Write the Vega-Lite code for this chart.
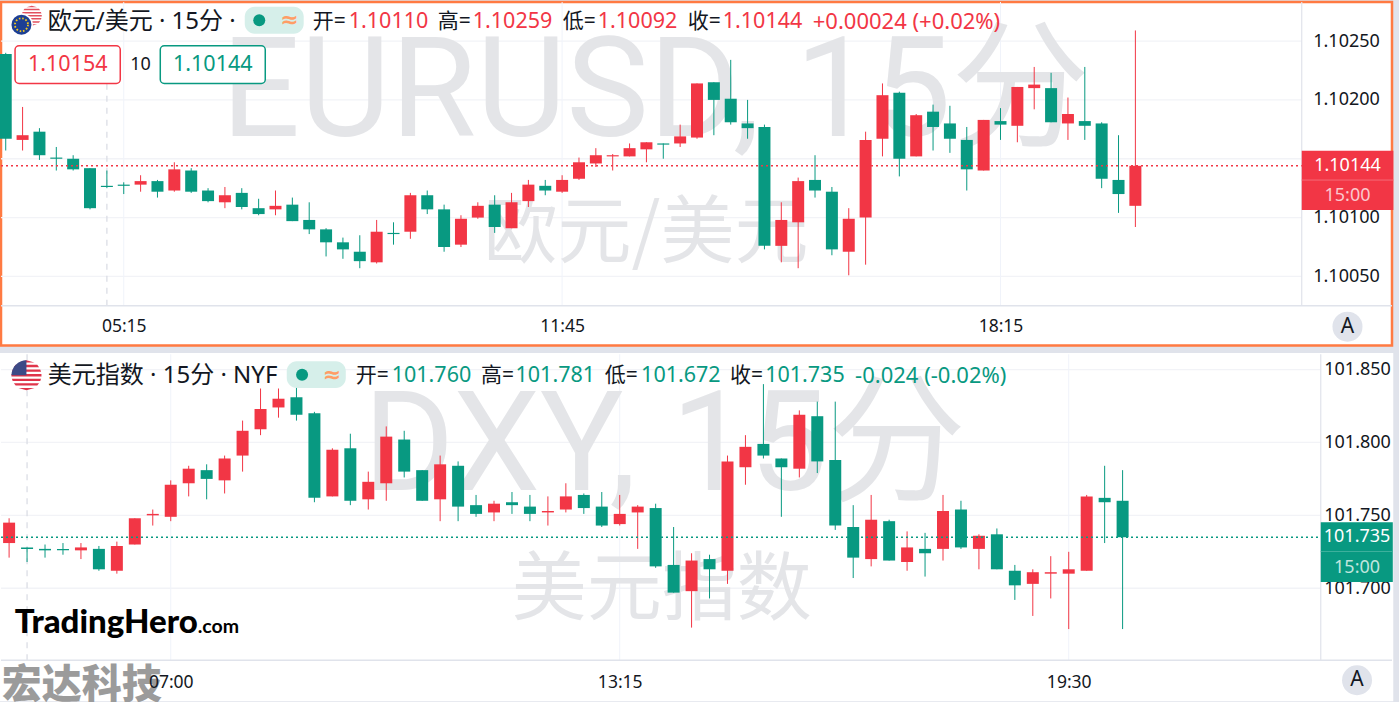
{"$schema":"https://vega.github.io/schema/vega-lite/v6.json","background":"#e0e3eb","padding":{"left":-2,"top":0,"right":7.5,"bottom":2},"bounds":"flush","spacing":8.25,"config":{"scale":{"continuousPadding":0}},
"datasets":{
"eurLevels":[{"level":1.1005},{"level":1.101},{"level":1.1015},{"level":1.102},{"level":1.1025}],
"eurTimes":[{"t":"2024-03-01T05:15"},{"t":"2024-03-01T11:45"},{"t":"2024-03-01T18:15"}],
"dxyLevels":[{"level":101.7},{"level":101.75},{"level":101.8},{"level":101.85}],
"dxyTimes":[{"t":"2024-03-01T07:00"},{"t":"2024-03-01T13:15"},{"t":"2024-03-01T19:30"}],
"eur":[
{"t":"2024-03-01T03:30","open":1.10239,"high":1.1024,"low":1.10157,"close":1.10167},
{"t":"2024-03-01T03:45","open":1.10166,"high":1.10194,"low":1.10157,"close":1.1017},
{"t":"2024-03-01T04:00","open":1.10173,"high":1.10176,"low":1.10149,"close":1.10153},
{"t":"2024-03-01T04:15","open":1.10151,"high":1.1016,"low":1.1014,"close":1.1015},
{"t":"2024-03-01T04:30","open":1.1015,"high":1.10153,"low":1.1014,"close":1.10141},
{"t":"2024-03-01T04:45","open":1.10142,"high":1.10142,"low":1.10107,"close":1.10108},
{"t":"2024-03-01T05:00","open":1.10127,"high":1.1014,"low":1.10125,"close":1.10126},
{"t":"2024-03-01T05:15","open":1.10128,"high":1.1013,"low":1.1012,"close":1.10127},
{"t":"2024-03-01T05:30","open":1.10128,"high":1.10136,"low":1.10122,"close":1.10131},
{"t":"2024-03-01T05:45","open":1.10131,"high":1.10132,"low":1.10117,"close":1.10122},
{"t":"2024-03-01T06:00","open":1.10123,"high":1.10147,"low":1.10122,"close":1.10141},
{"t":"2024-03-01T06:15","open":1.1014,"high":1.10142,"low":1.10121,"close":1.10122},
{"t":"2024-03-01T06:30","open":1.10123,"high":1.10125,"low":1.10113,"close":1.10114},
{"t":"2024-03-01T06:45","open":1.10113,"high":1.10126,"low":1.10108,"close":1.10119},
{"t":"2024-03-01T07:00","open":1.10121,"high":1.10125,"low":1.10107,"close":1.10109},
{"t":"2024-03-01T07:15","open":1.10108,"high":1.10116,"low":1.10102,"close":1.10103},
{"t":"2024-03-01T07:30","open":1.10107,"high":1.10123,"low":1.10102,"close":1.1011},
{"t":"2024-03-01T07:45","open":1.10111,"high":1.10117,"low":1.10097,"close":1.10097},
{"t":"2024-03-01T08:00","open":1.10098,"high":1.10113,"low":1.10086,"close":1.1009},
{"t":"2024-03-01T08:15","open":1.1009,"high":1.10091,"low":1.10067,"close":1.10079},
{"t":"2024-03-01T08:30","open":1.10079,"high":1.10083,"low":1.10065,"close":1.10073},
{"t":"2024-03-01T08:45","open":1.10071,"high":1.10085,"low":1.10057,"close":1.10063},
{"t":"2024-03-01T09:00","open":1.10062,"high":1.10098,"low":1.10061,"close":1.10088},
{"t":"2024-03-01T09:15","open":1.10087,"high":1.10096,"low":1.10077,"close":1.10086},
{"t":"2024-03-01T09:30","open":1.10088,"high":1.10121,"low":1.10082,"close":1.10119},
{"t":"2024-03-01T09:45","open":1.10119,"high":1.10123,"low":1.10103,"close":1.10107},
{"t":"2024-03-01T10:00","open":1.10107,"high":1.10111,"low":1.10071,"close":1.10075},
{"t":"2024-03-01T10:15","open":1.10077,"high":1.10102,"low":1.10075,"close":1.10099},
{"t":"2024-03-01T10:30","open":1.101,"high":1.10113,"low":1.10099,"close":1.1011},
{"t":"2024-03-01T10:45","open":1.10111,"high":1.10119,"low":1.10087,"close":1.10092},
{"t":"2024-03-01T11:00","open":1.10091,"high":1.10121,"low":1.10091,"close":1.10113},
{"t":"2024-03-01T11:15","open":1.10114,"high":1.10132,"low":1.10109,"close":1.10128},
{"t":"2024-03-01T11:30","open":1.10127,"high":1.10132,"low":1.10119,"close":1.10123},
{"t":"2024-03-01T11:45","open":1.10122,"high":1.10136,"low":1.10121,"close":1.10132},
{"t":"2024-03-01T12:00","open":1.10133,"high":1.10151,"low":1.10132,"close":1.10147},
{"t":"2024-03-01T12:15","open":1.10146,"high":1.10159,"low":1.10143,"close":1.10153},
{"t":"2024-03-01T12:30","open":1.10152,"high":1.10154,"low":1.1014,"close":1.10153},
{"t":"2024-03-01T12:45","open":1.10152,"high":1.10163,"low":1.10152,"close":1.10159},
{"t":"2024-03-01T13:00","open":1.10158,"high":1.10164,"low":1.10147,"close":1.10164},
{"t":"2024-03-01T13:15","open":1.10163,"high":1.10163,"low":1.1015,"close":1.10162},
{"t":"2024-03-01T13:30","open":1.10163,"high":1.10179,"low":1.1016,"close":1.10169},
{"t":"2024-03-01T13:45","open":1.10168,"high":1.10214,"low":1.10167,"close":1.10214},
{"t":"2024-03-01T14:00","open":1.10215,"high":1.10215,"low":1.1017,"close":1.102},
{"t":"2024-03-01T14:15","open":1.10201,"high":1.10234,"low":1.10179,"close":1.10181},
{"t":"2024-03-01T14:30","open":1.1018,"high":1.102,"low":1.10167,"close":1.10176},
{"t":"2024-03-01T14:45","open":1.10177,"high":1.10179,"low":1.10073,"close":1.10076},
{"t":"2024-03-01T15:00","open":1.10076,"high":1.10113,"low":1.10062,"close":1.10098},
{"t":"2024-03-01T15:15","open":1.10096,"high":1.10134,"low":1.10057,"close":1.10131},
{"t":"2024-03-01T15:30","open":1.10132,"high":1.10153,"low":1.10117,"close":1.10123},
{"t":"2024-03-01T15:45","open":1.10122,"high":1.10126,"low":1.10068,"close":1.10073},
{"t":"2024-03-01T16:00","open":1.10071,"high":1.10108,"low":1.10051,"close":1.10099},
{"t":"2024-03-01T16:15","open":1.101,"high":1.10173,"low":1.1006,"close":1.10166},
{"t":"2024-03-01T16:30","open":1.10167,"high":1.10214,"low":1.10152,"close":1.10204},
{"t":"2024-03-01T16:45","open":1.10206,"high":1.10207,"low":1.10135,"close":1.1015},
{"t":"2024-03-01T17:00","open":1.10152,"high":1.10188,"low":1.10152,"close":1.10187},
{"t":"2024-03-01T17:15","open":1.1019,"high":1.10196,"low":1.10157,"close":1.10177},
{"t":"2024-03-01T17:30","open":1.1018,"high":1.10195,"low":1.10155,"close":1.10167},
{"t":"2024-03-01T17:45","open":1.10166,"high":1.10177,"low":1.10123,"close":1.10141},
{"t":"2024-03-01T18:00","open":1.1014,"high":1.10183,"low":1.1014,"close":1.10183},
{"t":"2024-03-01T18:15","open":1.10182,"high":1.10193,"low":1.10166,"close":1.10179},
{"t":"2024-03-01T18:30","open":1.10178,"high":1.10211,"low":1.10164,"close":1.10211},
{"t":"2024-03-01T18:45","open":1.1021,"high":1.10228,"low":1.10192,"close":1.10213},
{"t":"2024-03-01T19:00","open":1.1021,"high":1.10223,"low":1.10181,"close":1.10181},
{"t":"2024-03-01T19:15","open":1.1018,"high":1.10202,"low":1.10166,"close":1.10188},
{"t":"2024-03-01T19:30","open":1.10182,"high":1.10228,"low":1.10166,"close":1.10178},
{"t":"2024-03-01T19:45","open":1.1018,"high":1.10181,"low":1.10125,"close":1.10133},
{"t":"2024-03-01T20:00","open":1.10132,"high":1.1017,"low":1.10104,"close":1.1012},
{"t":"2024-03-01T20:15","open":1.1011,"high":1.10259,"low":1.10092,"close":1.10144}],
"dxy":[
{"t":"2024-03-01T04:45","open":101.731,"high":101.748,"low":101.721,"close":101.745},
{"t":"2024-03-01T05:00","open":101.728,"high":101.728,"low":101.718,"close":101.727},
{"t":"2024-03-01T05:15","open":101.727,"high":101.73,"low":101.721,"close":101.726},
{"t":"2024-03-01T05:30","open":101.727,"high":101.731,"low":101.723,"close":101.726},
{"t":"2024-03-01T05:45","open":101.726,"high":101.731,"low":101.72,"close":101.728},
{"t":"2024-03-01T06:00","open":101.727,"high":101.729,"low":101.712,"close":101.713},
{"t":"2024-03-01T06:15","open":101.712,"high":101.732,"low":101.71,"close":101.729},
{"t":"2024-03-01T06:30","open":101.73,"high":101.748,"low":101.73,"close":101.748},
{"t":"2024-03-01T06:45","open":101.75,"high":101.754,"low":101.743,"close":101.751},
{"t":"2024-03-01T07:00","open":101.749,"high":101.774,"low":101.746,"close":101.771},
{"t":"2024-03-01T07:15","open":101.772,"high":101.784,"low":101.763,"close":101.782},
{"t":"2024-03-01T07:30","open":101.781,"high":101.785,"low":101.761,"close":101.775},
{"t":"2024-03-01T07:45","open":101.774,"high":101.791,"low":101.765,"close":101.789},
{"t":"2024-03-01T08:00","open":101.791,"high":101.815,"low":101.78,"close":101.808},
{"t":"2024-03-01T08:15","open":101.809,"high":101.837,"low":101.805,"close":101.823},
{"t":"2024-03-01T08:30","open":101.824,"high":101.837,"low":101.817,"close":101.83},
{"t":"2024-03-01T08:45","open":101.831,"high":101.839,"low":101.815,"close":101.819},
{"t":"2024-03-01T09:00","open":101.82,"high":101.821,"low":101.759,"close":101.762},
{"t":"2024-03-01T09:15","open":101.763,"high":101.796,"low":101.763,"close":101.795},
{"t":"2024-03-01T09:30","open":101.796,"high":101.806,"low":101.757,"close":101.76},
{"t":"2024-03-01T09:45","open":101.761,"high":101.78,"low":101.754,"close":101.773},
{"t":"2024-03-01T10:00","open":101.772,"high":101.811,"low":101.76,"close":101.804},
{"t":"2024-03-01T10:15","open":101.802,"high":101.808,"low":101.776,"close":101.78},
{"t":"2024-03-01T10:30","open":101.781,"high":101.781,"low":101.76,"close":101.76},
{"t":"2024-03-01T10:45","open":101.761,"high":101.791,"low":101.746,"close":101.785},
{"t":"2024-03-01T11:00","open":101.784,"high":101.787,"low":101.746,"close":101.756},
{"t":"2024-03-01T11:15","open":101.757,"high":101.764,"low":101.749,"close":101.751},
{"t":"2024-03-01T11:30","open":101.752,"high":101.76,"low":101.746,"close":101.758},
{"t":"2024-03-01T11:45","open":101.759,"high":101.766,"low":101.751,"close":101.757},
{"t":"2024-03-01T12:00","open":101.756,"high":101.764,"low":101.746,"close":101.751},
{"t":"2024-03-01T12:15","open":101.752,"high":101.763,"low":101.743,"close":101.753},
{"t":"2024-03-01T12:30","open":101.754,"high":101.772,"low":101.752,"close":101.763},
{"t":"2024-03-01T12:45","open":101.764,"high":101.765,"low":101.751,"close":101.755},
{"t":"2024-03-01T13:00","open":101.756,"high":101.766,"low":101.742,"close":101.743},
{"t":"2024-03-01T13:15","open":101.744,"high":101.764,"low":101.743,"close":101.751},
{"t":"2024-03-01T13:30","open":101.752,"high":101.757,"low":101.727,"close":101.756},
{"t":"2024-03-01T13:45","open":101.755,"high":101.758,"low":101.714,"close":101.715},
{"t":"2024-03-01T14:00","open":101.716,"high":101.742,"low":101.697,"close":101.697},
{"t":"2024-03-01T14:15","open":101.698,"high":101.724,"low":101.673,"close":101.719},
{"t":"2024-03-01T14:30","open":101.72,"high":101.723,"low":101.693,"close":101.713},
{"t":"2024-03-01T14:45","open":101.712,"high":101.791,"low":101.703,"close":101.787},
{"t":"2024-03-01T15:00","open":101.783,"high":101.805,"low":101.771,"close":101.797},
{"t":"2024-03-01T15:15","open":101.799,"high":101.84,"low":101.789,"close":101.791},
{"t":"2024-03-01T15:30","open":101.789,"high":101.789,"low":101.749,"close":101.783},
{"t":"2024-03-01T15:45","open":101.782,"high":101.822,"low":101.776,"close":101.819},
{"t":"2024-03-01T16:00","open":101.818,"high":101.828,"low":101.779,"close":101.787},
{"t":"2024-03-01T16:15","open":101.788,"high":101.828,"low":101.74,"close":101.743},
{"t":"2024-03-01T16:30","open":101.742,"high":101.757,"low":101.707,"close":101.721},
{"t":"2024-03-01T16:45","open":101.72,"high":101.764,"low":101.715,"close":101.747},
{"t":"2024-03-01T17:00","open":101.746,"high":101.747,"low":101.719,"close":101.719},
{"t":"2024-03-01T17:15","open":101.718,"high":101.739,"low":101.712,"close":101.728},
{"t":"2024-03-01T17:30","open":101.727,"high":101.738,"low":101.708,"close":101.724},
{"t":"2024-03-01T17:45","open":101.727,"high":101.764,"low":101.719,"close":101.753},
{"t":"2024-03-01T18:00","open":101.754,"high":101.76,"low":101.727,"close":101.728},
{"t":"2024-03-01T18:15","open":101.727,"high":101.737,"low":101.713,"close":101.736},
{"t":"2024-03-01T18:30","open":101.737,"high":101.741,"low":101.713,"close":101.713},
{"t":"2024-03-01T18:45","open":101.712,"high":101.716,"low":101.692,"close":101.702},
{"t":"2024-03-01T19:00","open":101.703,"high":101.713,"low":101.681,"close":101.711},
{"t":"2024-03-01T19:15","open":101.71,"high":101.722,"low":101.693,"close":101.711},
{"t":"2024-03-01T19:30","open":101.71,"high":101.725,"low":101.672,"close":101.713},
{"t":"2024-03-01T19:45","open":101.712,"high":101.764,"low":101.712,"close":101.763},
{"t":"2024-03-01T20:00","open":101.762,"high":101.784,"low":101.731,"close":101.759},
{"t":"2024-03-01T20:15","open":101.76,"high":101.781,"low":101.672,"close":101.735}]
},
"vconcat":[
{"width":1391,"height":343.5,"view":{"fill":"#ffffff","stroke":"#ff7a42","strokeWidth":2.5},"data":{"values":[{}]},
"layer":[
{"data":{"name":"eurLevels"},"mark":{"type":"rule","color":"#f2f3f7","strokeWidth":1.3},"encoding":{
"x":{"datum":{"year":2024,"month":3,"date":1,"hours":3,"minutes":25,"seconds":48},"type":"temporal","scale":{"domain":[{"year":2024,"month":3,"date":1,"hours":3,"minutes":25,"seconds":48},{"year":2024,"month":3,"date":2,"hours":0,"minutes":3,"seconds":18}],"nice":false,"padding":0},"axis":{"title":null,"orient":"bottom","offset":-39.75,"grid":false,"domain":false,"ticks":false,"labelPadding":12,"format":"%H:%M","values":[{"year":2024,"month":3,"date":1,"hours":5,"minutes":15},{"year":2024,"month":3,"date":1,"hours":11,"minutes":45},{"year":2024,"month":3,"date":1,"hours":18,"minutes":15}],"labelFont":"Noto Sans","labelFontSize":17.5,"labelColor":"#131722","labelFlush":false,"labelOverlap":false}},
"x2":{"datum":{"year":2024,"month":3,"date":1,"hours":22,"minutes":43,"seconds":0}},
"y":{"field":"level","type":"quantitative","scale":{"domain":[1.0999133,1.1028318],"nice":false,"zero":false},"axis":{"title":null,"orient":"right","offset":-90.25,"grid":false,"domain":false,"ticks":false,"labelPadding":11,"format":".5f","values":[1.1005,1.101,1.1015,1.102,1.1025],"labelFont":"Noto Sans","labelFontSize":18,"labelColor":"#131722","labelOverlap":false,"labelFlush":false}}}},
{"data":{"name":"eurTimes"},"mark":{"type":"rule","color":"#f0f3fa","strokeWidth":1},"encoding":{"x":{"field":"t","type":"temporal"},"y":{"datum":1.1028318,"type":"quantitative"},"y2":{"datum":1.100251}}},
{"mark":{"type":"text","text":"EURUSD, 15分","align":"center","baseline":"alphabetic","font":"Roboto, Noto Sans CJK SC","fontSize":139,"color":"#e4e5e8"},"encoding":{"x":{"datum":{"year":2024,"month":3,"date":1,"hours":13,"minutes":8,"seconds":18},"type":"temporal"},"y":{"datum":1.101695,"type":"quantitative"}}},
{"mark":{"type":"text","text":"欧元/美元","align":"center","baseline":"middle","font":"Noto Sans CJK SC","fontSize":74,"color":"#e4e5e8"},"encoding":{"x":{"datum":{"year":2024,"month":3,"date":1,"hours":12,"minutes":59,"seconds":36},"type":"temporal"},"y":{"datum":1.100855,"type":"quantitative"}}},
{"mark":{"type":"rule","color":"#d8dbe3","strokeWidth":1.2,"strokeDash":[6,6]},"encoding":{"x":{"datum":{"year":2024,"month":3,"date":1,"hours":5,"minutes":0,"seconds":0},"type":"temporal"},"y":{"datum":1.102137,"type":"quantitative"},"y2":{"datum":1.100251}}},
{"mark":{"type":"rule","color":"#e0e3eb","strokeWidth":1.5},"encoding":{"x":{"datum":{"year":2024,"month":3,"date":1,"hours":3,"minutes":25,"seconds":48},"type":"temporal"},"x2":{"datum":{"year":2024,"month":3,"date":2,"hours":0,"minutes":3,"seconds":18}},"y":{"datum":1.100251,"type":"quantitative"}}},
{"mark":{"type":"rule","color":"#e0e3eb","strokeWidth":1.2},"encoding":{"x":{"datum":{"year":2024,"month":3,"date":1,"hours":22,"minutes":43,"seconds":0},"type":"temporal"},"y":{"datum":1.1028318,"type":"quantitative"},"y2":{"datum":1.100251}}},
{"data":{"name":"eur"},"mark":{"type":"rule","strokeWidth":1},"encoding":{"x":{"field":"t","type":"temporal"},"y":{"field":"low","type":"quantitative"},"y2":{"field":"high"},"color":{"condition":{"test":"datum.close>datum.open","value":"#f23645"},"value":"#089981"}}},
{"data":{"name":"eur"},"mark":{"type":"bar","size":12},"encoding":{"x":{"field":"t","type":"temporal"},"y":{"field":"open","type":"quantitative"},"y2":{"field":"close"},"color":{"condition":{"test":"datum.close>datum.open","value":"#f23645"},"value":"#089981"}}},
{"mark":{"type":"rule","color":"#f23645","strokeWidth":1.4,"strokeDash":[2,3]},"encoding":{"x":{"datum":{"year":2024,"month":3,"date":1,"hours":3,"minutes":25,"seconds":48},"type":"temporal"},"x2":{"datum":{"year":2024,"month":3,"date":1,"hours":22,"minutes":43,"seconds":0}},"y":{"datum":1.10144,"type":"quantitative"}}},
{"mark":{"type":"rect","color":"#f23645"},"encoding":{"x":{"datum":{"year":2024,"month":3,"date":1,"hours":22,"minutes":43,"seconds":0},"type":"temporal"},"x2":{"datum":{"year":2024,"month":3,"date":2,"hours":0,"minutes":4,"seconds":30}},"y":{"datum":1.101568,"type":"quantitative"},"y2":{"datum":1.101064}}},
{"mark":{"type":"rule","color":"#f56b77","strokeWidth":1},"encoding":{"x":{"datum":{"year":2024,"month":3,"date":1,"hours":22,"minutes":43,"seconds":0},"type":"temporal"},"x2":{"datum":{"year":2024,"month":3,"date":2,"hours":0,"minutes":4,"seconds":30}},"y":{"datum":1.101319,"type":"quantitative"}}},
{"mark":{"type":"text","text":"1.10144","align":"center","baseline":"middle","font":"Noto Sans","fontSize":18,"color":"#ffffff"},"encoding":{"x":{"datum":{"year":2024,"month":3,"date":1,"hours":23,"minutes":23,"seconds":42},"type":"temporal"},"y":{"datum":1.10144,"type":"quantitative"}}},
{"mark":{"type":"text","text":"15:00","align":"center","baseline":"middle","font":"Noto Sans","fontSize":18,"color":"#fbc8cd"},"encoding":{"x":{"datum":{"year":2024,"month":3,"date":1,"hours":23,"minutes":23,"seconds":42},"type":"temporal"},"y":{"datum":1.101186,"type":"quantitative"}}},
{"mark":{"type":"point","shape":"circle","filled":true,"size":900,"color":"#e0e3eb","opacity":1},"encoding":{"x":{"datum":{"year":2024,"month":3,"date":1,"hours":23,"minutes":23,"seconds":42},"type":"temporal"},"y":{"datum":1.100073,"type":"quantitative"}}},
{"mark":{"type":"text","text":"A","align":"center","baseline":"middle","font":"Noto Sans","fontSize":21,"color":"#131722"},"encoding":{"x":{"datum":{"year":2024,"month":3,"date":1,"hours":23,"minutes":23,"seconds":42},"type":"temporal"},"y":{"datum":1.100073,"type":"quantitative"}}},
{"mark":{"type":"point","filled":true,"opacity":1,"size":400,"color":"#ffffff","shape":"M-1,0A1,1,0,1,1,1,0A1,1,0,1,1,-1,0Z"},"encoding":{"x":{"datum":{"year":2024,"month":3,"date":1,"hours":3,"minutes":53,"seconds":9},"type":"temporal"},"y":{"datum":1.102715,"type":"quantitative"}}},
{"mark":{"type":"point","filled":true,"opacity":1,"size":400,"color":"#e2505f","shape":"M-.533,-.846L0,-1L.533,-.846ZM-.72,-.692L.72,-.692L.84,-.538L-.84,-.538ZM-.92,-.385L.92,-.385L.97,-.231L-.97,-.231ZM-1,-.077L1,-.077L1,.077L-1,.077ZM-.97,.231L.97,.231L.92,.385L-.92,.385ZM-.84,.538L.84,.538L.72,.692L-.72,.692ZM-.533,.846L.533,.846L0,1Z"},"encoding":{"x":{"datum":{"year":2024,"month":3,"date":1,"hours":3,"minutes":53,"seconds":9},"type":"temporal"},"y":{"datum":1.102715,"type":"quantitative"}}},
{"mark":{"type":"point","shape":"circle","filled":true,"size":529,"color":"#ffffff","opacity":1},"encoding":{"x":{"datum":{"year":2024,"month":3,"date":1,"hours":3,"minutes":44,"seconds":0},"type":"temporal"},"y":{"datum":1.1026385,"type":"quantitative"}}},
{"mark":{"type":"point","shape":"circle","filled":true,"size":400,"color":"#1c3f94","opacity":1},"encoding":{"x":{"datum":{"year":2024,"month":3,"date":1,"hours":3,"minutes":44,"seconds":0},"type":"temporal"},"y":{"datum":1.1026385,"type":"quantitative"}}},
{"mark":{"type":"point","shape":"circle","filled":false,"size":169,"color":"#f2c81e","opacity":1,"strokeWidth":1.8,"strokeDash":[1.6,1.8]},"encoding":{"x":{"datum":{"year":2024,"month":3,"date":1,"hours":3,"minutes":44,"seconds":0},"type":"temporal"},"y":{"datum":1.1026385,"type":"quantitative"}}},
{"mark":{"type":"text","text":"欧元/美元 · 15分 ·","align":"left","baseline":"middle","font":"Noto Sans, Noto Sans CJK SC","fontSize":24,"color":"#131722"},"encoding":{"x":{"datum":{"year":2024,"month":3,"date":1,"hours":4,"minutes":7,"seconds":24},"type":"temporal"},"y":{"datum":1.102664,"type":"quantitative"}}},
{"mark":{"type":"rect","color":"#d6efea","cornerRadius":10},"encoding":{"x":{"datum":{"year":2024,"month":3,"date":1,"hours":7,"minutes":2,"seconds":39},"type":"temporal"},"x2":{"datum":{"year":2024,"month":3,"date":1,"hours":7,"minutes":55,"seconds":6}},"y":{"datum":1.1027914,"type":"quantitative"},"y2":{"datum":1.102562}}},
{"mark":{"type":"point","shape":"circle","filled":true,"size":144,"color":"#089981","opacity":1},"encoding":{"x":{"datum":{"year":2024,"month":3,"date":1,"hours":7,"minutes":15,"seconds":33},"type":"temporal"},"y":{"datum":1.1026767,"type":"quantitative"}}},
{"mark":{"type":"text","text":"≈","align":"center","baseline":"middle","font":"DejaVu Sans","fontSize":22,"fontWeight":"bold","color":"#ff9d66"},"encoding":{"x":{"datum":{"year":2024,"month":3,"date":1,"hours":7,"minutes":42,"seconds":24},"type":"temporal"},"y":{"datum":1.1026767,"type":"quantitative"}}},
{"mark":{"type":"text","text":"开=","align":"left","baseline":"middle","font":"Noto Sans, Noto Sans CJK SC","fontSize":21,"color":"#131722"},"encoding":{"x":{"datum":{"year":2024,"month":3,"date":1,"hours":8,"minutes":3,"seconds":9},"type":"temporal"},"y":{"datum":1.102664,"type":"quantitative"}}},
{"mark":{"type":"text","text":"1.10110","align":"left","baseline":"middle","font":"Noto Sans","fontSize":21.5,"color":"#f23645"},"encoding":{"x":{"datum":{"year":2024,"month":3,"date":1,"hours":8,"minutes":35,"seconds":10},"type":"temporal"},"y":{"datum":1.102664,"type":"quantitative"}}},
{"mark":{"type":"text","text":"高=","align":"left","baseline":"middle","font":"Noto Sans, Noto Sans CJK SC","fontSize":21,"color":"#131722"},"encoding":{"x":{"datum":{"year":2024,"month":3,"date":1,"hours":9,"minutes":54,"seconds":24},"type":"temporal"},"y":{"datum":1.102664,"type":"quantitative"}}},
{"mark":{"type":"text","text":"1.10259","align":"left","baseline":"middle","font":"Noto Sans","fontSize":21.5,"color":"#f23645"},"encoding":{"x":{"datum":{"year":2024,"month":3,"date":1,"hours":10,"minutes":25,"seconds":30},"type":"temporal"},"y":{"datum":1.102664,"type":"quantitative"}}},
{"mark":{"type":"text","text":"低=","align":"left","baseline":"middle","font":"Noto Sans, Noto Sans CJK SC","fontSize":21,"color":"#131722"},"encoding":{"x":{"datum":{"year":2024,"month":3,"date":1,"hours":11,"minutes":45,"seconds":36},"type":"temporal"},"y":{"datum":1.102664,"type":"quantitative"}}},
{"mark":{"type":"text","text":"1.10092","align":"left","baseline":"middle","font":"Noto Sans","fontSize":21.5,"color":"#f23645"},"encoding":{"x":{"datum":{"year":2024,"month":3,"date":1,"hours":12,"minutes":16,"seconds":42},"type":"temporal"},"y":{"datum":1.102664,"type":"quantitative"}}},
{"mark":{"type":"text","text":"收=","align":"left","baseline":"middle","font":"Noto Sans, Noto Sans CJK SC","fontSize":21,"color":"#131722"},"encoding":{"x":{"datum":{"year":2024,"month":3,"date":1,"hours":13,"minutes":36,"seconds":48},"type":"temporal"},"y":{"datum":1.102664,"type":"quantitative"}}},
{"mark":{"type":"text","text":"1.10144","align":"left","baseline":"middle","font":"Noto Sans","fontSize":21.5,"color":"#f23645"},"encoding":{"x":{"datum":{"year":2024,"month":3,"date":1,"hours":14,"minutes":7,"seconds":54},"type":"temporal"},"y":{"datum":1.102664,"type":"quantitative"}}},
{"mark":{"type":"text","text":"+0.00024 (+0.02%)","align":"left","baseline":"middle","font":"Noto Sans","fontSize":22,"color":"#f23645"},"encoding":{"x":{"datum":{"year":2024,"month":3,"date":1,"hours":15,"minutes":28,"seconds":0},"type":"temporal"},"y":{"datum":1.102664,"type":"quantitative"}}},
{"mark":{"type":"rect","fill":"#ffffff","stroke":"#f23645","strokeWidth":1.5,"cornerRadius":4},"encoding":{"x":{"datum":{"year":2024,"month":3,"date":1,"hours":3,"minutes":38,"seconds":18},"type":"temporal"},"x2":{"datum":{"year":2024,"month":3,"date":1,"hours":5,"minutes":11,"seconds":54}},"y":{"datum":1.10246,"type":"quantitative"},"y2":{"datum":1.10214}}},
{"mark":{"type":"text","text":"1.10154","align":"center","baseline":"middle","font":"Noto Sans","fontSize":21.5,"color":"#f23645"},"encoding":{"x":{"datum":{"year":2024,"month":3,"date":1,"hours":4,"minutes":25,"seconds":12},"type":"temporal"},"y":{"datum":1.102299,"type":"quantitative"}}},
{"mark":{"type":"text","text":"10","align":"center","baseline":"middle","font":"Noto Sans","fontSize":18,"color":"#131722"},"encoding":{"x":{"datum":{"year":2024,"month":3,"date":1,"hours":5,"minutes":29,"seconds":54},"type":"temporal"},"y":{"datum":1.102299,"type":"quantitative"}}},
{"mark":{"type":"rect","fill":"#ffffff","stroke":"#089981","strokeWidth":1.5,"cornerRadius":4},"encoding":{"x":{"datum":{"year":2024,"month":3,"date":1,"hours":5,"minutes":47,"seconds":30},"type":"temporal"},"x2":{"datum":{"year":2024,"month":3,"date":1,"hours":7,"minutes":20,"seconds":54}},"y":{"datum":1.10246,"type":"quantitative"},"y2":{"datum":1.10214}}},
{"mark":{"type":"text","text":"1.10144","align":"center","baseline":"middle","font":"Noto Sans","fontSize":21.5,"color":"#089981"},"encoding":{"x":{"datum":{"year":2024,"month":3,"date":1,"hours":6,"minutes":34,"seconds":12},"type":"temporal"},"y":{"datum":1.102299,"type":"quantitative"}}}
]},
{"width":1391,"height":345.75,"view":{"fill":"#ffffff","stroke":"#ffffff","strokeWidth":2.5},"data":{"values":[{}]},
"layer":[
{"data":{"name":"dxyLevels"},"mark":{"type":"rule","color":"#f2f3f7","strokeWidth":1.3},"encoding":{
"x":{"datum":{"year":2024,"month":3,"date":1,"hours":4,"minutes":38,"seconds":14},"type":"temporal","scale":{"domain":[{"year":2024,"month":3,"date":1,"hours":4,"minutes":38,"seconds":14},{"year":2024,"month":3,"date":2,"hours":0,"minutes":0,"seconds":0}],"nice":false,"padding":0},"axis":{"title":null,"orient":"bottom","offset":-39.75,"grid":false,"domain":false,"ticks":false,"labelPadding":13,"zindex":1,"format":"%H:%M","values":[{"year":2024,"month":3,"date":1,"hours":7,"minutes":0},{"year":2024,"month":3,"date":1,"hours":13,"minutes":15},{"year":2024,"month":3,"date":1,"hours":19,"minutes":30}],"labelFont":"Noto Sans","labelFontSize":17.5,"labelColor":"#131722","labelFlush":false,"labelOverlap":false}},
"x2":{"datum":{"year":2024,"month":3,"date":1,"hours":23,"minutes":0,"seconds":30}},
"y":{"field":"level","type":"quantitative","scale":{"domain":[101.62335,101.8605],"nice":false,"zero":false},"axis":{"title":null,"orient":"right","offset":-71.25,"grid":false,"domain":false,"ticks":false,"labelPadding":3,"format":".3f","values":[101.7,101.75,101.8,101.85],"labelFont":"Noto Sans","labelFontSize":18,"labelColor":"#131722","labelOverlap":false,"labelFlush":false}}}},
{"data":{"name":"dxyTimes"},"mark":{"type":"rule","color":"#f0f3fa","strokeWidth":1},"encoding":{"x":{"field":"t","type":"temporal"},"y":{"datum":101.8605,"type":"quantitative"},"y2":{"datum":101.6506}}},
{"mark":{"type":"text","text":"DXY, 15分","align":"center","baseline":"alphabetic","font":"Roboto, Noto Sans CJK SC","fontSize":139,"color":"#e4e5e8"},"encoding":{"x":{"datum":{"year":2024,"month":3,"date":1,"hours":13,"minutes":52,"seconds":36},"type":"temporal"},"y":{"datum":101.7672,"type":"quantitative"}}},
{"mark":{"type":"text","text":"美元指数","align":"center","baseline":"middle","font":"Noto Sans CJK SC","fontSize":75,"color":"#e4e5e8"},"encoding":{"x":{"datum":{"year":2024,"month":3,"date":1,"hours":13,"minutes":50,"seconds":6},"type":"temporal"},"y":{"datum":101.698,"type":"quantitative"}}},
{"mark":{"type":"rule","color":"#d8dbe3","strokeWidth":1.2,"strokeDash":[6,6]},"encoding":{"x":{"datum":{"year":2024,"month":3,"date":1,"hours":5,"minutes":0,"seconds":0},"type":"temporal"},"y":{"datum":101.8605,"type":"quantitative"},"y2":{"datum":101.6506}}},
{"mark":{"type":"rule","color":"#e0e3eb","strokeWidth":1.5},"encoding":{"x":{"datum":{"year":2024,"month":3,"date":1,"hours":4,"minutes":38,"seconds":14},"type":"temporal"},"x2":{"datum":{"year":2024,"month":3,"date":2,"hours":0,"minutes":0,"seconds":0}},"y":{"datum":101.6506,"type":"quantitative"}}},
{"mark":{"type":"rule","color":"#e0e3eb","strokeWidth":1.2},"encoding":{"x":{"datum":{"year":2024,"month":3,"date":1,"hours":23,"minutes":0,"seconds":30},"type":"temporal"},"y":{"datum":101.8605,"type":"quantitative"},"y2":{"datum":101.6506}}},
{"data":{"name":"dxy"},"mark":{"type":"rule","strokeWidth":1},"encoding":{"x":{"field":"t","type":"temporal"},"y":{"field":"low","type":"quantitative"},"y2":{"field":"high"},"color":{"condition":{"test":"datum.close>datum.open","value":"#f23645"},"value":"#089981"}}},
{"data":{"name":"dxy"},"mark":{"type":"bar","size":12},"encoding":{"x":{"field":"t","type":"temporal"},"y":{"field":"open","type":"quantitative"},"y2":{"field":"close"},"color":{"condition":{"test":"datum.close>datum.open","value":"#f23645"},"value":"#089981"}}},
{"mark":{"type":"rule","color":"#089981","strokeWidth":1.4,"strokeDash":[2,3]},"encoding":{"x":{"datum":{"year":2024,"month":3,"date":1,"hours":4,"minutes":38,"seconds":14},"type":"temporal"},"x2":{"datum":{"year":2024,"month":3,"date":1,"hours":23,"minutes":0,"seconds":30}},"y":{"datum":101.735,"type":"quantitative"}}},
{"mark":{"type":"rect","color":"#089981"},"encoding":{"x":{"datum":{"year":2024,"month":3,"date":1,"hours":23,"minutes":0,"seconds":30},"type":"temporal"},"x2":{"datum":{"year":2024,"month":3,"date":2,"hours":0,"minutes":0,"seconds":40}},"y":{"datum":101.7453,"type":"quantitative"},"y2":{"datum":101.7043}}},
{"mark":{"type":"rule","color":"#3db09c","strokeWidth":1},"encoding":{"x":{"datum":{"year":2024,"month":3,"date":1,"hours":23,"minutes":0,"seconds":30},"type":"temporal"},"x2":{"datum":{"year":2024,"month":3,"date":2,"hours":0,"minutes":0,"seconds":40}},"y":{"datum":101.7252,"type":"quantitative"}}},
{"mark":{"type":"text","text":"101.735","align":"center","baseline":"middle","font":"Noto Sans","fontSize":18,"color":"#ffffff"},"encoding":{"x":{"datum":{"year":2024,"month":3,"date":1,"hours":23,"minutes":30,"seconds":48},"type":"temporal"},"y":{"datum":101.735,"type":"quantitative"}}},
{"mark":{"type":"text","text":"15:00","align":"center","baseline":"middle","font":"Noto Sans","fontSize":18,"color":"#c0e6de"},"encoding":{"x":{"datum":{"year":2024,"month":3,"date":1,"hours":23,"minutes":30,"seconds":48},"type":"temporal"},"y":{"datum":101.7142,"type":"quantitative"}}},
{"mark":{"type":"point","shape":"circle","filled":true,"size":900,"color":"#e0e3eb","opacity":1},"encoding":{"x":{"datum":{"year":2024,"month":3,"date":1,"hours":23,"minutes":30,"seconds":48},"type":"temporal"},"y":{"datum":101.6369,"type":"quantitative"}}},
{"mark":{"type":"text","text":"A","align":"center","baseline":"middle","font":"Noto Sans","fontSize":21,"color":"#131722"},"encoding":{"x":{"datum":{"year":2024,"month":3,"date":1,"hours":23,"minutes":30,"seconds":48},"type":"temporal"},"y":{"datum":101.6369,"type":"quantitative"}}},
{"mark":{"type":"point","shape":"circle","filled":true,"size":900,"color":"#ffffff","opacity":1},"encoding":{"x":{"datum":{"year":2024,"month":3,"date":1,"hours":4,"minutes":59,"seconds":30},"type":"temporal"},"y":{"datum":101.8461,"type":"quantitative"}}},
{"mark":{"type":"point","filled":true,"opacity":1,"size":900,"color":"#e0344a","shape":"M-.533,-.846L0,-1L.533,-.846ZM-.72,-.692L.72,-.692L.84,-.538L-.84,-.538ZM-.92,-.385L.92,-.385L.97,-.231L-.97,-.231ZM-1,-.077L1,-.077L1,.077L-1,.077ZM-.97,.231L.97,.231L.92,.385L-.92,.385ZM-.84,.538L.84,.538L.72,.692L-.72,.692ZM-.533,.846L.533,.846L0,1Z"},"encoding":{"x":{"datum":{"year":2024,"month":3,"date":1,"hours":4,"minutes":59,"seconds":30},"type":"temporal"},"y":{"datum":101.8461,"type":"quantitative"}}},
{"mark":{"type":"point","filled":true,"opacity":1,"size":900,"color":"#3d4a86","shape":"M-1,0A1,1,0,0,1,0,-1L0,0Z"},"encoding":{"x":{"datum":{"year":2024,"month":3,"date":1,"hours":4,"minutes":59,"seconds":30},"type":"temporal"},"y":{"datum":101.8461,"type":"quantitative"}}},
{"mark":{"type":"text","text":"美元指数 · 15分 · NYF","align":"left","baseline":"middle","font":"Noto Sans, Noto Sans CJK SC","fontSize":24,"color":"#131722"},"encoding":{"x":{"datum":{"year":2024,"month":3,"date":1,"hours":5,"minutes":17,"seconds":18},"type":"temporal"},"y":{"datum":101.8454,"type":"quantitative"}}},
{"mark":{"type":"rect","color":"#d6efea","cornerRadius":10},"encoding":{"x":{"datum":{"year":2024,"month":3,"date":1,"hours":8,"minutes":36,"seconds":54},"type":"temporal"},"x2":{"datum":{"year":2024,"month":3,"date":1,"hours":9,"minutes":26,"seconds":12}},"y":{"datum":101.8557,"type":"quantitative"},"y2":{"datum":101.8374}}},
{"mark":{"type":"point","shape":"circle","filled":true,"size":144,"color":"#089981","opacity":1},"encoding":{"x":{"datum":{"year":2024,"month":3,"date":1,"hours":8,"minutes":49,"seconds":42},"type":"temporal"},"y":{"datum":101.8464,"type":"quantitative"}}},
{"mark":{"type":"text","text":"≈","align":"center","baseline":"middle","font":"DejaVu Sans","fontSize":22,"fontWeight":"bold","color":"#ff9d66"},"encoding":{"x":{"datum":{"year":2024,"month":3,"date":1,"hours":9,"minutes":14,"seconds":36},"type":"temporal"},"y":{"datum":101.8464,"type":"quantitative"}}},
{"mark":{"type":"text","text":"开=","align":"left","baseline":"middle","font":"Noto Sans, Noto Sans CJK SC","fontSize":21,"color":"#131722"},"encoding":{"x":{"datum":{"year":2024,"month":3,"date":1,"hours":9,"minutes":34,"seconds":30},"type":"temporal"},"y":{"datum":101.8454,"type":"quantitative"}}},
{"mark":{"type":"text","text":"101.760","align":"left","baseline":"middle","font":"Noto Sans","fontSize":21.5,"color":"#089981"},"encoding":{"x":{"datum":{"year":2024,"month":3,"date":1,"hours":10,"minutes":4,"seconds":32},"type":"temporal"},"y":{"datum":101.8454,"type":"quantitative"}}},
{"mark":{"type":"text","text":"高=","align":"left","baseline":"middle","font":"Noto Sans, Noto Sans CJK SC","fontSize":21,"color":"#131722"},"encoding":{"x":{"datum":{"year":2024,"month":3,"date":1,"hours":11,"minutes":19,"seconds":12},"type":"temporal"},"y":{"datum":101.8454,"type":"quantitative"}}},
{"mark":{"type":"text","text":"101.781","align":"left","baseline":"middle","font":"Noto Sans","fontSize":21.5,"color":"#089981"},"encoding":{"x":{"datum":{"year":2024,"month":3,"date":1,"hours":11,"minutes":47,"seconds":56},"type":"temporal"},"y":{"datum":101.8454,"type":"quantitative"}}},
{"mark":{"type":"text","text":"低=","align":"left","baseline":"middle","font":"Noto Sans, Noto Sans CJK SC","fontSize":21,"color":"#131722"},"encoding":{"x":{"datum":{"year":2024,"month":3,"date":1,"hours":13,"minutes":2,"seconds":30},"type":"temporal"},"y":{"datum":101.8454,"type":"quantitative"}}},
{"mark":{"type":"text","text":"101.672","align":"left","baseline":"middle","font":"Noto Sans","fontSize":21.5,"color":"#089981"},"encoding":{"x":{"datum":{"year":2024,"month":3,"date":1,"hours":13,"minutes":32,"seconds":50},"type":"temporal"},"y":{"datum":101.8454,"type":"quantitative"}}},
{"mark":{"type":"text","text":"收=","align":"left","baseline":"middle","font":"Noto Sans, Noto Sans CJK SC","fontSize":21,"color":"#131722"},"encoding":{"x":{"datum":{"year":2024,"month":3,"date":1,"hours":14,"minutes":47,"seconds":6},"type":"temporal"},"y":{"datum":101.8454,"type":"quantitative"}}},
{"mark":{"type":"text","text":"101.735","align":"left","baseline":"middle","font":"Noto Sans","fontSize":21.5,"color":"#089981"},"encoding":{"x":{"datum":{"year":2024,"month":3,"date":1,"hours":15,"minutes":16,"seconds":26},"type":"temporal"},"y":{"datum":101.8454,"type":"quantitative"}}},
{"mark":{"type":"text","text":"-0.024 (-0.02%)","align":"left","baseline":"middle","font":"Noto Sans","fontSize":22,"color":"#089981"},"encoding":{"x":{"datum":{"year":2024,"month":3,"date":1,"hours":16,"minutes":31,"seconds":36},"type":"temporal"},"y":{"datum":101.8454,"type":"quantitative"}}},
{"mark":{"type":"text","text":"TradingHero","align":"left","baseline":"alphabetic","font":"Lato","fontWeight":900,"fontSize":33,"color":"#000000"},"encoding":{"x":{"datum":{"year":2024,"month":3,"date":1,"hours":4,"minutes":49,"seconds":42},"type":"temporal"},"y":{"datum":101.6691,"type":"quantitative"}}},
{"mark":{"type":"text","text":".com","align":"left","baseline":"alphabetic","font":"Lato","fontWeight":700,"fontSize":19.5,"color":"#000000"},"encoding":{"x":{"datum":{"year":2024,"month":3,"date":1,"hours":7,"minutes":22,"seconds":32},"type":"temporal"},"y":{"datum":101.6691,"type":"quantitative"}}},
{"mark":{"type":"text","text":"宏达科技","align":"left","baseline":"middle","font":"Noto Sans CJK SC","fontWeight":900,"fontSize":40,"color":"#9b9b9b"},"encoding":{"x":{"datum":{"year":2024,"month":3,"date":1,"hours":4,"minutes":38,"seconds":54},"type":"temporal"},"y":{"datum":101.6331,"type":"quantitative"}}}
]}
]}
